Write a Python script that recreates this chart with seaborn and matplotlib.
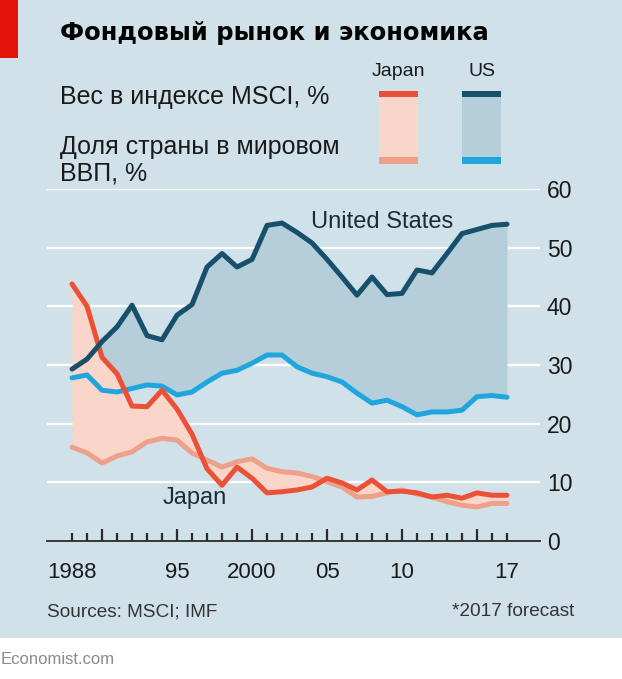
import numpy as np
import pandas as pd
import matplotlib
matplotlib.use("Agg")
import matplotlib.pyplot as plt
import seaborn as sns

years = list(range(1988, 2018))

us_msci = [29.3, 31, 34, 36.5, 40.2, 35, 34.3, 38.5, 40.3, 46.7, 49, 46.7, 48, 53.8, 54.2, 52.6,
           50.8, 48, 45, 41.9, 45, 42, 42.2, 46.2, 45.7, 49, 52.4, 53.1, 53.8, 54]
us_gdp = [27.8, 28.3, 25.7, 25.4, 26, 26.6, 26.4, 24.9, 25.4, 27.1, 28.6, 29.1, 30.3, 31.7, 31.7, 29.7,
          28.6, 28, 27.1, 25.2, 23.5, 24, 22.9, 21.5, 22, 22, 22.3, 24.6, 24.8, 24.5]
jp_msci = [43.8, 40, 31.3, 28.5, 23, 22.9, 25.7, 22.5, 18.2, 12.3, 9.5, 12.6, 10.7, 8.2, 8.4, 8.7,
           9.2, 10.7, 9.9, 8.7, 10.4, 8.4, 8.5, 8.2, 7.5, 7.8, 7.3, 8.2, 7.8, 7.8]
jp_gdp = [16, 15, 13.3, 14.5, 15.2, 16.9, 17.5, 17.2, 15, 13.8, 12.6, 13.5, 14, 12.4, 11.8, 11.6,
          11, 10.1, 9.2, 7.5, 7.6, 8.2, 8.7, 8, 7.5, 6.7, 6.1, 5.8, 6.4, 6.4]

y_ticks = [0, 10, 20, 30, 40, 50, 60]
x_ticks = [1988, 1995, 2000, 2005, 2010, 2017]
x_labels = ["1988", "95", "2000", "05", "10", "17"]
long_ticks = [1990, 1995, 2000, 2005, 2010, 2015]

df = pd.DataFrame({"year": years, "us_msci": us_msci, "us_gdp": us_gdp,
                   "jp_msci": jp_msci, "jp_gdp": jp_gdp})

bg = "#d1e1ea"
us_dark = "#17506a"
us_light = "#1fa6dc"
us_fill = "#b6ceda"
jp_red = "#ea5136"
jp_salmon = "#eea18a"
jp_fill = "#f9d6c9"
txt = "#1a1a1a"
tick_c = "#2b2b2b"

sns.set_style("white")
plt.rcParams["font.family"] = ["Liberation Sans", "DejaVu Sans"]

W, H = 622, 679
fig = plt.figure(figsize=(6.22, 6.79), dpi=100)
fig.patch.set_facecolor(bg)
# white strip at the bottom and red tag top-left
fig.patches.append(plt.Rectangle((0, 0), 1, 41 / H, transform=fig.transFigure,
                                 facecolor="white", edgecolor="none"))
fig.patches.append(plt.Rectangle((0, 1 - 58 / H), 18 / W, 58 / H, transform=fig.transFigure,
                                 facecolor="#e3120b", edgecolor="none"))

ax = fig.add_axes([47 / W, 1 - 541 / H, 493 / W, 352 / H])
ax.set_zorder(3)
ax.set_facecolor("none")
ax.set_xlim(1986.33, 2019.2)
ax.set_ylim(0, 60)

for v in y_ticks[1:]:
    ax.axhline(v, color="white", lw=1.6, zorder=1)

ax.fill_between(df["year"], df["us_msci"], df["us_gdp"], color=us_fill, lw=0, zorder=2)
ax.fill_between(df["year"], df["jp_msci"], df["jp_gdp"], color=jp_fill, lw=0, zorder=2)

sns.lineplot(data=df, x="year", y="jp_gdp", color=jp_salmon, lw=3.6, ax=ax, zorder=3)
sns.lineplot(data=df, x="year", y="us_gdp", color=us_light, lw=3.6, ax=ax, zorder=3)
sns.lineplot(data=df, x="year", y="jp_msci", color=jp_red, lw=3.6, ax=ax, zorder=4)
sns.lineplot(data=df, x="year", y="us_msci", color=us_dark, lw=3.6, ax=ax, zorder=4)

for s in ["top", "right", "left"]:
    ax.spines[s].set_visible(False)
ax.spines["bottom"].set_color(tick_c)
ax.spines["bottom"].set_linewidth(1.3)

ax.yaxis.tick_right()
ax.set_yticks(y_ticks)
ax.set_yticklabels([str(v) for v in y_ticks], fontsize=16.5, color=txt)
ax.tick_params(axis="y", length=0, pad=5)

ax.set_xticks(x_ticks)
ax.set_xticklabels(x_labels, fontsize=16, color=txt)
ax.tick_params(axis="x", length=0, pad=15)
ax.set_xlabel("")
ax.set_ylabel("")

# yearly tick marks, longer every 5 years
short = [yr for yr in years if yr not in long_ticks]
ax.vlines(short, 0, 1.4, colors=tick_c, lw=1.6, zorder=6, clip_on=False)
ax.vlines(long_ticks, 0, 2.1, colors=tick_c, lw=1.6, zorder=6, clip_on=False)

ax.text(2008.7, 54.3, "United States", fontsize=17, color="#1e2b33", ha="center", va="center")
ax.text(1996.2, 7.4, "Japan", fontsize=17, color="#1e2b33", ha="center", va="center")

# titles and legend
fig.text(60 / W, 1 - 33 / H, "Фондовый рынок и экономика", fontsize=17.5, fontweight="heavy",
         family=["DejaVu Sans"], color="black", va="center")
fig.text(60 / W, 1 - 97 / H, "Вес в индексе MSCI, %", fontsize=18, color=txt, va="center")
fig.text(60 / W, 1 - 147 / H, "Доля страны в мировом", fontsize=18, color=txt, va="center")
fig.text(60 / W, 1 - 173 / H, "ВВП, %", fontsize=18, color=txt, va="center")

for x0, lab, top_c, bot_c, fill_c in [(379, "Japan", jp_red, jp_salmon, jp_fill),
                                       (462, "US", us_dark, us_light, us_fill)]:
    w = 39
    fig.patches.append(plt.Rectangle((x0 / W, 1 - 161 / H), w / W, 68 / H,
                                     transform=fig.transFigure, facecolor=fill_c, edgecolor="none"))
    fig.patches.append(plt.Rectangle((x0 / W, 1 - 97 / H), w / W, 6 / H,
                                     transform=fig.transFigure, facecolor=top_c, edgecolor="none"))
    fig.patches.append(plt.Rectangle((x0 / W, 1 - 164 / H), w / W, 7 / H,
                                     transform=fig.transFigure, facecolor=bot_c, edgecolor="none"))
    fig.text((x0 + w / 2) / W, 1 - 72 / H, lab, fontsize=14, color=txt, ha="center", va="center")

fig.text(47 / W, 1 - 612 / H, "Sources: MSCI; IMF", fontsize=13.7, color="#333333", va="center")
fig.text(574 / W, 1 - 612 / H, "*2017 forecast", fontsize=13.7, color="#333333", va="center", ha="right")
fig.text(1 / W, 1 - 660 / H, "Economist.com", fontsize=12, color="#8a8a8a", va="center")

fig.savefig("out.png", dpi=100)
